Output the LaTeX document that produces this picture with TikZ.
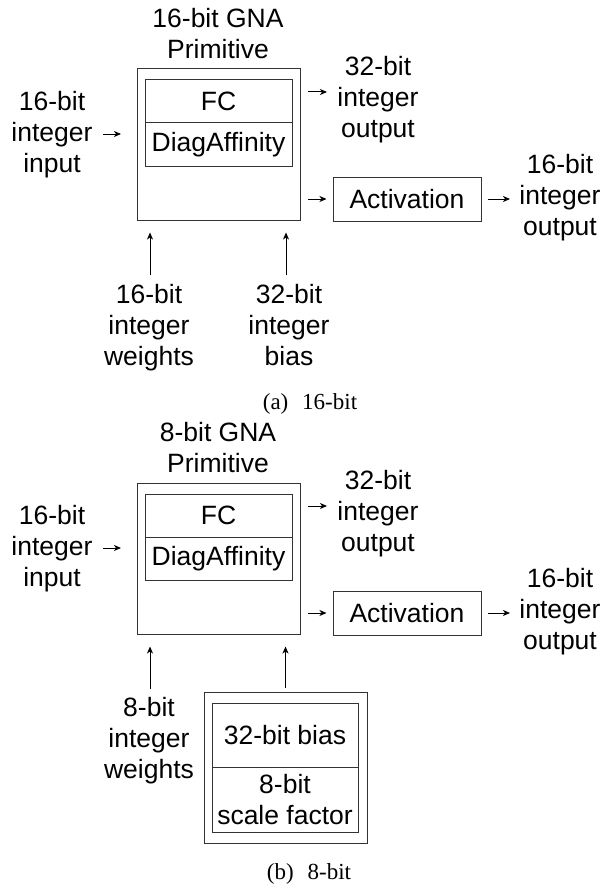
\documentclass[tikz,border=0pt]{standalone}
\usepackage{fontspec}
\setmainfont{Liberation Sans}
\newfontfamily\capfont{Liberation Serif}
\usetikzlibrary{arrows.meta}

\begin{document}
\begin{tikzpicture}[x=1pt,y=-1pt]
	\tikzstyle{text_label} = [align=center, inner sep=0pt, font=\fontsize{26.5}{31}\selectfont]
	\tikzstyle{box_outer} = [rectangle, draw=black!80, line width=1pt, inner sep=0pt]
	\tikzstyle{box_cell} = [rectangle, draw=black!80, line width=1pt, inner sep=0pt, align=center, font=\fontsize{26.5}{31}\selectfont]
	\tikzstyle{arrow_flow} = [-{Stealth[length=7pt,width=6pt,inset=2pt]}, line width=1pt]
	\tikzstyle{text_caption} = [anchor=base, inner sep=0pt, font=\capfont\fontsize{23}{27}\selectfont]

	\useasboundingbox (0,0) rectangle (602,888);

%------------------------------------------------------------
	\node[text_label] (ttlA) at (218,33.2) {16-bit GNA\\Primitive};
	\node[box_outer, minimum width=163pt, minimum height=151pt] (prmA) at (218.5,144.5) {};
	\node[box_cell, minimum width=147pt, minimum height=43pt] (fcA) at (218.5,101.5) {FC};
	\node[box_cell, minimum width=147pt, minimum height=43pt] (dgA) at (218.5,144.5) {DiagAffinity};

	\node[text_label] (inA) at (52,134.5) {16-bit\\integer\\input};
	\coordinate (inAs) at (103,134);
	\coordinate (inAt) at (121,134);
	\draw[arrow_flow] (inAs) -- (inAt);

%------------------------------------------------------------

	\node[text_label] (outA) at (378,99.8) {32-bit\\integer\\output};
	\coordinate (outAs) at (308,92);
	\coordinate (outAt) at (327,92);
	\draw[arrow_flow] (outAs) -- (outAt);

	\node[box_cell, minimum width=148pt, minimum height=44pt] (actA) at (407,199) {Activation};
	\node[text_label] (resA) at (560,197.8) {16-bit\\integer\\output};
	\coordinate (actAs) at (308,199);
	\coordinate (resAt) at (510,199);
	\draw[arrow_flow, shorten >=6pt] (actAs) -- (actA.west);
	\draw[arrow_flow, shorten <=6pt] (actA.east) -- (resAt);

%------------------------------------------------------------

	\node[text_label] (wtA) at (149,327.5) {16-bit\\integer\\weights};
	\node[text_label] (bsA) at (289,324.7) {32-bit\\integer\\bias};
	\coordinate (wtAs) at (150,275);
	\coordinate (bsAs) at (286,275);
	\draw[arrow_flow, shorten >=12pt] (wtAs) -- (wtAs |- prmA.south);
	\draw[arrow_flow, shorten >=12pt] (bsAs) -- (bsAs |- prmA.south);

	\node[text_caption] (capA) at (310,409) {(a)\hspace{0.6em}16-bit};

%------------------------------------------------------------
	\node[text_label] (ttlB) at (218,447.2) {8-bit GNA\\Primitive};
	\node[box_outer, minimum width=163pt, minimum height=151pt] (prmB) at (218.5,558.5) {};
	\node[box_cell, minimum width=147pt, minimum height=43pt] (fcB) at (218.5,515.5) {FC};
	\node[box_cell, minimum width=147pt, minimum height=43pt] (dgB) at (218.5,558.5) {DiagAffinity};

	\node[text_label] (inB) at (52,548.5) {16-bit\\integer\\input};
	\coordinate (inBs) at (103,548);
	\coordinate (inBt) at (121,548);
	\draw[arrow_flow] (inBs) -- (inBt);

%------------------------------------------------------------

	\node[text_label] (outB) at (378,513.8) {32-bit\\integer\\output};
	\coordinate (outBs) at (308,506);
	\coordinate (outBt) at (327,506);
	\draw[arrow_flow] (outBs) -- (outBt);

	\node[box_cell, minimum width=148pt, minimum height=44pt] (actB) at (407,613) {Activation};
	\node[text_label] (resB) at (560,611.8) {16-bit\\integer\\output};
	\coordinate (actBs) at (308,613);
	\coordinate (resBt) at (510,613);
	\draw[arrow_flow, shorten >=6pt] (actBs) -- (actB.west);
	\draw[arrow_flow, shorten <=6pt] (actB.east) -- (resBt);

%------------------------------------------------------------

	\node[text_label] (wtB) at (149,740.5) {8-bit\\integer\\weights};
	\coordinate (wtBs) at (150,689);
	\draw[arrow_flow, shorten >=12pt] (wtBs) -- (wtBs |- prmB.south);

	\node[box_outer, minimum width=163pt, minimum height=151pt] (bsB) at (285.5,767.5) {};
	\node[box_cell, minimum width=146pt, minimum height=64pt] (bsvB) at (285,735) {32-bit bias};
	\node[box_cell, minimum width=146pt, minimum height=65pt] (sclB) at (285,799.5) {8-bit\\scale factor};
	\draw[arrow_flow, shorten <=4pt, shorten >=12pt] (bsB.north) -- (bsB.north |- prmB.south);

	\node[text_caption] (capB) at (309,879) {(b)\hspace{0.6em}8-bit};

\end{tikzpicture}
\end{document}
